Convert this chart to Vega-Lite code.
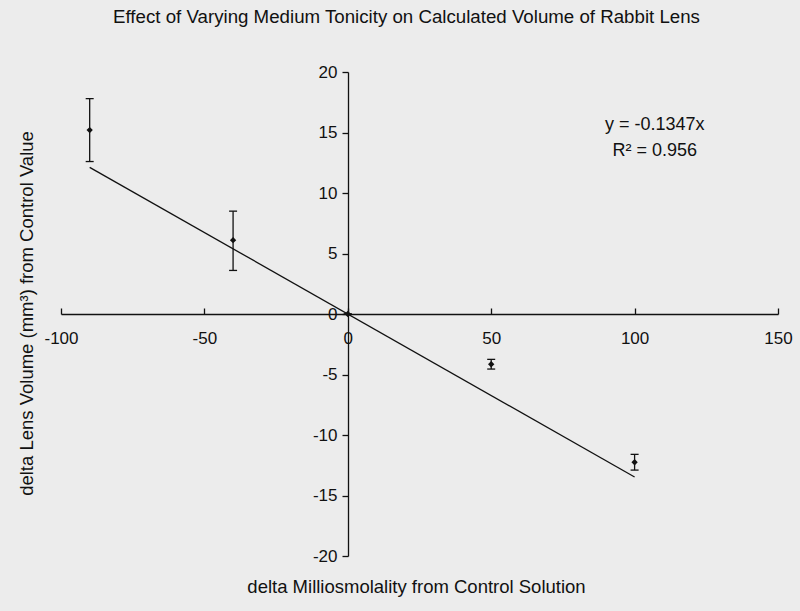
{
  "$schema": "https://vega.github.io/schema/vega-lite/v6.json",
  "width": 717,
  "height": 484,
  "autosize": "none",
  "padding": {"left": 61, "top": 72, "right": 22, "bottom": 55},
  "background": "#ececec",
  "title": {"text": "Effect of Varying Medium Tonicity on Calculated Volume of Rabbit Lens", "fontSize": 18.7, "fontWeight": "normal", "font": "Liberation Sans", "color": "#111", "offset": 36, "dx": -13},
  "config": {
    "view": {"stroke": null},
    "font": "Liberation Sans",
    "axis": {"grid": false, "domainColor": "#111", "tickColor": "#111", "labelColor": "#111", "titleColor": "#111", "labelFont": "Liberation Sans", "titleFont": "Liberation Sans", "labelFontSize": 17, "titleFontSize": 18.5, "titleFontWeight": "normal", "domainWidth": 1.3, "tickWidth": 1.3, "labelExpr": "datum.value < 0 ? '-' + abs(datum.value) : '' + datum.value"},
    "axisX": {"offset": -242, "tickCount": 5, "tickSize": -6, "labelPadding": 22, "labelFlush": false, "labelOverlap": false, "titleX": 355, "titleY": 272, "titleBaseline": "middle"},
    "axisY": {"offset": -287, "tickCount": 8, "tickSize": 6, "labelPadding": 5, "labelOverlap": false, "titleX": -322, "titleY": 241, "titleBaseline": "middle"}
  },
  "datasets": {
    "pts": [
      {"x": -90, "y": 15.2, "lo": 12.6, "hi": 17.8},
      {"x": -40, "y": 6.1, "lo": 3.6, "hi": 8.5},
      {"x": 0, "y": 0, "lo": 0, "hi": 0},
      {"x": 50, "y": -4.15, "lo": -4.55, "hi": -3.75},
      {"x": 100, "y": -12.25, "lo": -12.9, "hi": -11.6}
    ],
    "trend": [
      {"x": -90, "y": 12.12},
      {"x": 100, "y": -13.47}
    ],
    "notes": [
      {"x": 107, "y": 15.6, "text": "y = -0.1347x"},
      {"x": 107, "y": 13.5, "text": "R² = 0.956"}
    ]
  },
  "layer": [
    {
      "data": {"name": "trend"},
      "mark": {"type": "line", "color": "#111", "strokeWidth": 1.3},
      "encoding": {
        "x": {"field": "x", "type": "quantitative", "scale": {"domain": [-100, 150], "nice": false}, "title": "delta Milliosmolality from Control Solution"},
        "y": {"field": "y", "type": "quantitative", "scale": {"domain": [-20, 20], "nice": false}, "title": "delta Lens Volume (mm³) from Control Value"}
      }
    },
    {
      "data": {"name": "pts"},
      "mark": {"type": "rule", "color": "#111", "strokeWidth": 1.3},
      "encoding": {
        "x": {"field": "x", "type": "quantitative", "title": "delta Milliosmolality from Control Solution"},
        "y": {"field": "lo", "type": "quantitative", "title": "delta Lens Volume (mm³) from Control Value"},
        "y2": {"field": "hi"}
      }
    },
    {
      "data": {"name": "pts"},
      "mark": {"type": "tick", "orient": "horizontal", "color": "#111", "size": 8, "thickness": 1.3, "opacity": 1},
      "encoding": {
        "x": {"field": "x", "type": "quantitative", "title": "delta Milliosmolality from Control Solution"},
        "y": {"field": "lo", "type": "quantitative", "title": "delta Lens Volume (mm³) from Control Value"}
      }
    },
    {
      "data": {"name": "pts"},
      "mark": {"type": "tick", "orient": "horizontal", "color": "#111", "size": 8, "thickness": 1.3, "opacity": 1},
      "encoding": {
        "x": {"field": "x", "type": "quantitative", "title": "delta Milliosmolality from Control Solution"},
        "y": {"field": "hi", "type": "quantitative", "title": "delta Lens Volume (mm³) from Control Value"}
      }
    },
    {
      "data": {"name": "pts"},
      "mark": {"type": "point", "shape": "diamond", "filled": true, "color": "#111", "size": 40, "opacity": 1},
      "encoding": {
        "x": {"field": "x", "type": "quantitative", "title": "delta Milliosmolality from Control Solution"},
        "y": {"field": "y", "type": "quantitative", "title": "delta Lens Volume (mm³) from Control Value"}
      }
    },
    {
      "data": {"name": "notes"},
      "mark": {"type": "text", "color": "#111", "fontSize": 18, "font": "Liberation Sans", "baseline": "middle", "align": "center"},
      "encoding": {
        "x": {"field": "x", "type": "quantitative", "title": "delta Milliosmolality from Control Solution"},
        "y": {"field": "y", "type": "quantitative", "title": "delta Lens Volume (mm³) from Control Value"},
        "text": {"field": "text"}
      }
    }
  ]
}
